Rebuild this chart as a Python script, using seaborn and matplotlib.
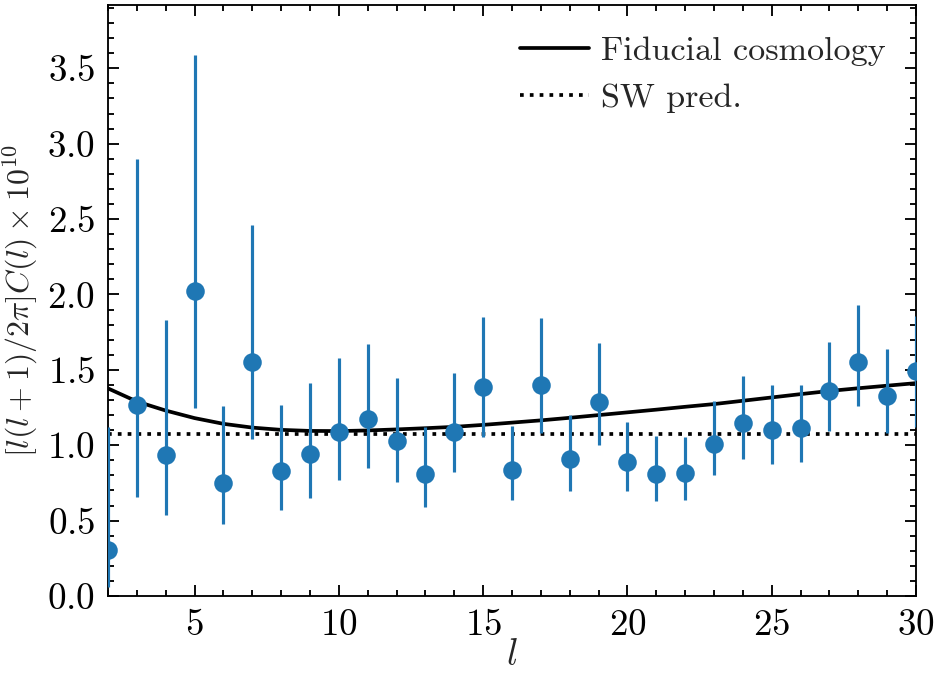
import numpy as np
import pandas as pd
import matplotlib
matplotlib.use("Agg")
import matplotlib.pyplot as plt
import seaborn as sns
from matplotlib.ticker import MultipleLocator

# ---- data ----
ells = list(range(2, 31))
cl_obs = [0.305, 1.266, 0.934, 2.025, 0.752, 1.554, 0.830, 0.941, 1.085, 1.173,
          1.029, 0.808, 1.089, 1.383, 0.839, 1.397, 0.910, 1.284, 0.892, 0.812,
          0.817, 1.011, 1.149, 1.098, 1.113, 1.357, 1.554, 1.324, 1.492]
err_hi = [1.12, 2.90, 1.830, 3.586, 1.257, 2.461, 1.266, 1.412, 1.578, 1.673,
          1.448, 1.124, 1.479, 1.853, 1.127, 1.844, 1.200, 1.675, 1.153, 1.060,
          1.056, 1.293, 1.459, 1.399, 1.399, 1.687, 1.930, 1.640, 1.86]
err_lo = [0.06, 0.657, 0.538, 1.250, 0.480, 1.042, 0.573, 0.653, 0.770, 0.848,
          0.755, 0.593, 0.823, 1.054, 0.635, 1.078, 0.699, 1.000, 0.695, 0.629,
          0.640, 0.801, 0.912, 0.874, 0.890, 1.096, 1.262, 1.078, 1.12]
fiducial = [1.377, 1.290, 1.230, 1.180, 1.142, 1.117, 1.102, 1.095, 1.094, 1.098,
            1.105, 1.113, 1.122, 1.135, 1.150, 1.165, 1.182, 1.200, 1.218, 1.236,
            1.255, 1.273, 1.295, 1.317, 1.339, 1.360, 1.378, 1.395, 1.412]
sw_pred = 1.076

xlabel = r"$l$"
ylabel = r"$[l(l+1)/2\pi]C(l)\times10^{10}$"
labels = ["Fiducial cosmology", "SW pred."]

# ---- style ----
sns.set_style("ticks")
plt.rcParams.update({
    "font.family": ["serif"],
    "font.serif": ["cmr10", "DejaVu Serif"],
    "mathtext.fontset": "cm",
    "axes.formatter.use_mathtext": True,
    "font.size": 10,
    "axes.linewidth": 0.5,
    "xtick.direction": "in", "ytick.direction": "in",
    "xtick.top": True, "ytick.right": True,
    "xtick.major.size": 3, "ytick.major.size": 3,
    "xtick.minor.size": 1.5, "ytick.minor.size": 1.5,
    "xtick.major.width": 0.5, "ytick.major.width": 0.5,
    "xtick.minor.width": 0.5, "ytick.minor.width": 0.5,
    "xtick.minor.visible": True, "ytick.minor.visible": True,
    "xtick.color": "black", "ytick.color": "black",
    "axes.edgecolor": "black",
    "lines.linewidth": 1.0,
    "legend.frameon": False,
})

dpi = 935 / 3.5
fig = plt.figure(figsize=(3.5, 675 / dpi), dpi=dpi)
ax = fig.add_axes([108 / 935, (675 - 596) / 675, (916 - 108) / 935, (596 - 5) / 675])

df = pd.DataFrame({"l": ells, "cl": cl_obs, "hi": err_hi, "lo": err_lo, "fid": fiducial})

sns.lineplot(data=df, x="l", y="fid", color="black", lw=1.0, ax=ax, label=labels[0], zorder=2)
ax.axhline(sw_pred, color="black", ls=":", lw=1.0, label=labels[1], zorder=2)

yerr = np.array([df["cl"] - df["lo"], df["hi"] - df["cl"]])
ax.errorbar(df["l"], df["cl"], yerr=yerr, fmt="o", color="#1f77b4", ms=4.0,
            elinewidth=0.85, capsize=0, zorder=3)

ax.set_xlim(2, 30)
ax.set_ylim(0, 3.92)
ax.xaxis.set_major_locator(MultipleLocator(5))
ax.xaxis.set_minor_locator(MultipleLocator(1))
ax.yaxis.set_major_locator(MultipleLocator(0.5))
ax.yaxis.set_minor_locator(MultipleLocator(0.1))
ax.set_xticks([5, 10, 15, 20, 25, 30])
ax.set_xlabel(xlabel, labelpad=-1, fontsize=10)
ax.set_ylabel(ylabel, labelpad=2.0, fontsize=8.6)
ax.legend(loc="upper right", handlelength=2.0, handletextpad=0.35,
          prop={"size": 9.2}, borderaxespad=0.5)

fig.savefig("out.png", dpi=dpi)
